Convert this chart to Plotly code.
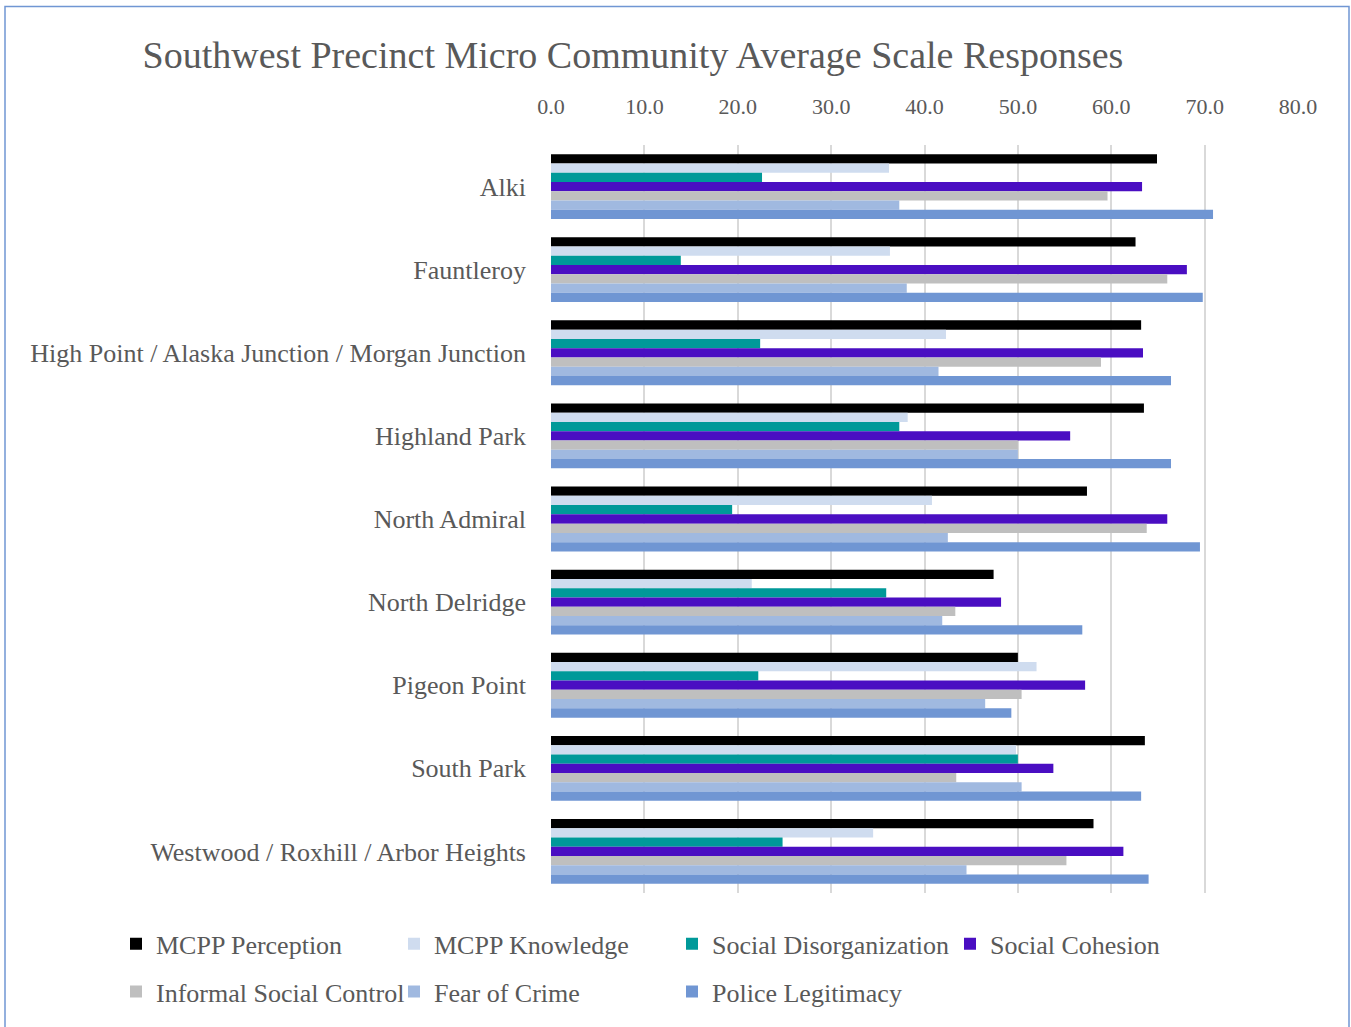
import plotly.graph_objects as go

# Categories (top to bottom)
communities = [
    "Alki",
    "Fauntleroy",
    "High Point / Alaska Junction / Morgan Junction",
    "Highland Park",
    "North Admiral",
    "North Delridge",
    "Pigeon Point",
    "South Park",
    "Westwood / Roxhill / Arbor Heights",
]

# Series values, one per community
mcpp_perception = [64.9, 62.6, 63.2, 63.5, 57.4, 47.4, 50.0, 63.6, 58.1]
mcpp_knowledge = [36.2, 36.3, 42.3, 38.2, 40.8, 21.5, 52.0, 49.8, 34.5]
social_disorganization = [22.6, 13.9, 22.4, 37.3, 19.4, 35.9, 22.2, 50.0, 24.8]
social_cohesion = [63.3, 68.1, 63.4, 55.6, 66.0, 48.2, 57.2, 53.8, 61.3]
informal_social_control = [59.6, 66.0, 58.9, 50.0, 63.8, 43.3, 50.4, 43.4, 55.2]
fear_of_crime = [37.3, 38.1, 41.5, 50.0, 42.5, 41.9, 46.5, 50.4, 44.5]
police_legitimacy = [70.9, 69.8, 66.4, 66.4, 69.5, 56.9, 49.3, 63.2, 64.0]

x_ticks = [0, 10, 20, 30, 40, 50, 60, 70, 80]

# name, values, colour, legend row
series = [
    ("MCPP Perception", mcpp_perception, "#000000", "legend"),
    ("MCPP Knowledge", mcpp_knowledge, "#CFDCEF", "legend"),
    ("Social Disorganization", social_disorganization, "#009999", "legend"),
    ("Social Cohesion", social_cohesion, "#4A0EC2", "legend"),
    ("Informal Social Control", informal_social_control, "#BFBFBF", "legend2"),
    ("Fear of Crime", fear_of_crime, "#A0B9E0", "legend2"),
    ("Police Legitimacy", police_legitimacy, "#7096D3", "legend2"),
]

FONT = "Liberation Serif"
TEXT = "#595959"
W, H = 1351, 1027
ML, MR, MT, MB = 551, 53, 145, 131
pw, ph = W - ML - MR, H - MT - MB


def px_x(x):
    # page pixel -> plot-domain paper x
    return (x - ML) / pw


def px_y(y):
    # page pixel -> plot-domain paper y
    return (H - MB - y) / ph


fig = go.Figure()
for name, vals, color, leg in series:
    fig.add_trace(go.Bar(
        y=communities, x=vals, name=name, orientation="h",
        marker=dict(color=color, line=dict(width=0)),
        legend=leg,
    ))

legend_common = dict(
    orientation="h", xanchor="left", yanchor="middle",
    entrywidth=233, entrywidthmode="pixels", itemwidth=30,
    font=dict(size=26, color=TEXT, family=FONT), traceorder="normal",
    bgcolor="rgba(0,0,0,0)",
)

fig.update_layout(
    width=W, height=H,
    margin=dict(l=ML, r=MR, t=MT, b=MB),
    paper_bgcolor="white", plot_bgcolor="white",
    barmode="group", bargap=0.22, bargroupgap=0,
    font=dict(family=FONT, color=TEXT),
    title=dict(
        text="Southwest Precinct Micro Community Average Scale Responses",
        x=633 / W, xanchor="center", xref="container",
        y=1 - 55 / H, yanchor="middle", yref="container",
        font=dict(size=38, color=TEXT, family=FONT),
    ),
    xaxis=dict(
        side="top", range=[0, 80], tickvals=x_ticks,
        ticktext=[f"{v:.1f}" for v in x_ticks],
        showgrid=True, gridcolor="#D9D9D9", gridwidth=1.5,
        zeroline=False, showline=False, ticks="",
        tickfont=dict(size=22, color=TEXT), ticklabelstandoff=26,
    ),
    yaxis=dict(
        autorange="reversed", showgrid=False, showline=False, ticks="",
        tickfont=dict(size=26, color=TEXT), ticklabelstandoff=24,
    ),
    legend=dict(x=px_x(116), y=px_y(947), **legend_common),
    legend2=dict(x=px_x(116), y=px_y(995), **legend_common),
    showlegend=True,
)

# Outer chart border (bottom edge falls below the page)
fig.add_shape(
    type="rect", xref="paper", yref="paper",
    x0=px_x(5), x1=px_x(1349), y0=px_y(1040), y1=px_y(6),
    line=dict(color="#7096D3", width=1.5), fillcolor="rgba(0,0,0,0)",
    layer="below",
)

fig.write_html(
    "out.html",
    config={"displayModeBar": False},
    post_script="document.body.style.margin='0';",
)
